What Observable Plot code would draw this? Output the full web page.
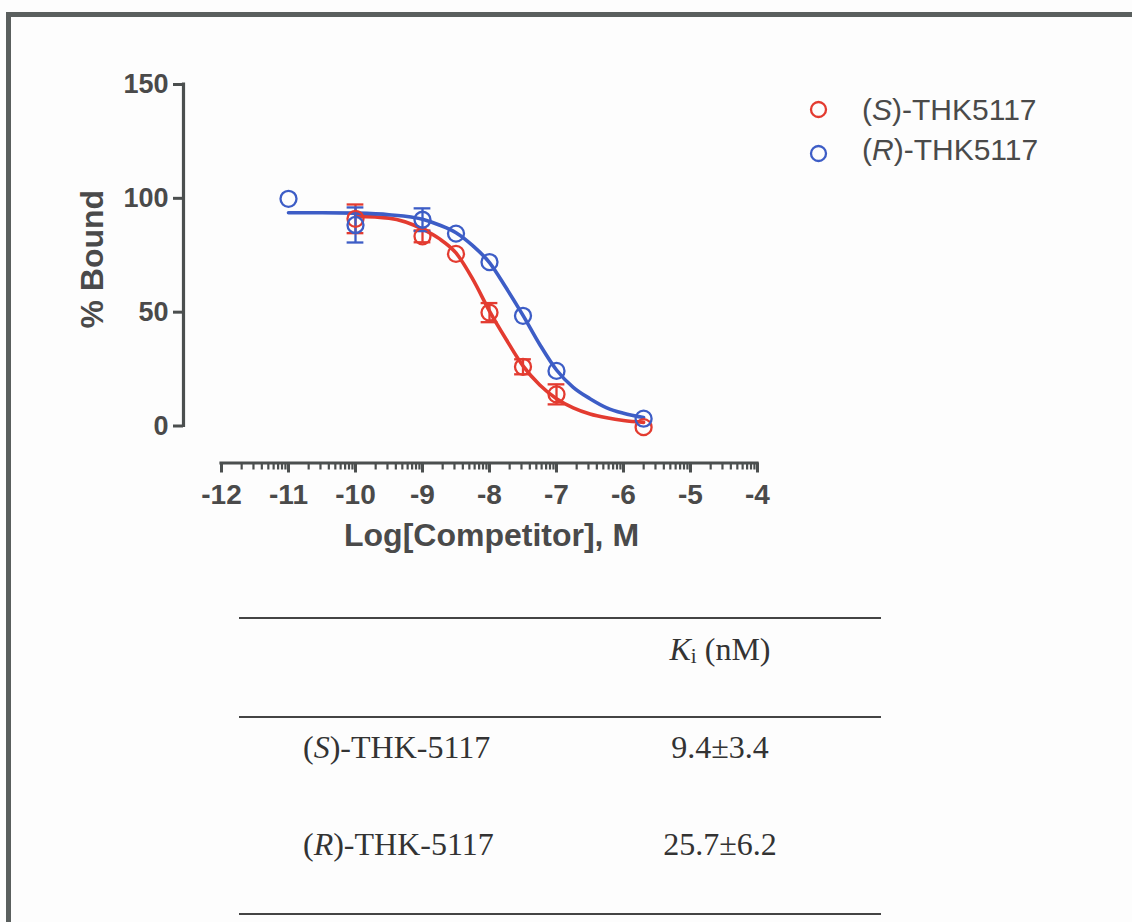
<!DOCTYPE html>
<html>
<head>
<meta charset="utf-8">
<script src="https://cdn.jsdelivr.net/npm/d3@7"></script>
<script src="https://cdn.jsdelivr.net/npm/@observablehq/plot@0.6"></script>
<style>
html, body { margin: 0; padding: 0; background: #fdfdfd; }
#page { position: relative; width: 1132px; height: 922px; overflow: hidden; background: #fdfdfd; }
#frame { position: absolute; left: 6px; top: 12px; right: -10px; bottom: -10px; border-top: 5px solid #5a5f5e; border-left: 5px solid #5a5f5e; }
#chart { position: absolute; left: 0; top: 0; }
.legend { position: absolute; left: 862px; font: 30px "Liberation Sans", Arial, sans-serif; color: #4a4a4a; line-height: 1; white-space: nowrap; }
.tab { position: absolute; font: 32px "Liberation Serif", "Times New Roman", serif; color: #333; line-height: 1; white-space: nowrap; }
.tab.c { left: 570px; width: 300px; text-align: center; }
.tab.l { left: 303px; }
.rule { position: absolute; left: 239px; width: 642px; height: 2px; background: #444; }
.sub { font-size: 0.66em; vertical-align: -0.12em; }
</style>
</head>
<body>
<div id="page">
  <div id="frame"></div>
  <div id="chart"></div>
  <div class="legend" style="top:94.5px"><span id="leg0"></span></div>
  <div class="legend" style="top:135px"><span id="leg1"></span></div>
  <div class="rule" style="top:617px"></div>
  <div class="rule" style="top:716px"></div>
  <div class="rule" style="top:913px"></div>
  <div class="tab c" style="top:633px"><i>K</i><span class="sub">i</span> (nM)</div>
  <div class="tab l" style="top:731px" id="row0"></div>
  <div class="tab c" style="top:731px" id="val0"></div>
  <div class="tab l" style="top:828px" id="row1"></div>
  <div class="tab c" style="top:828px" id="val1"></div>
</div>
<script>
// ---- data ----
const seriesNames = ["S", "R"];
const seriesColors = ["#e33b30", "#3d5dc6"];
const legendLabels = ["(<i>S</i>)-THK5117", "(<i>R</i>)-THK5117"];
const tableRows = ["(<i>S</i>)-THK-5117", "(<i>R</i>)-THK-5117"];
const tableValues = ["9.4±3.4", "25.7±6.2"];

const xMajorTicks = [-12, -11, -10, -9, -8, -7, -6, -5, -4];
const yTicks = [0, 50, 100, 150];
const xTitle = "Log[Competitor], M";
const yTitle = "% Bound";

// measured points (log M, % bound)
const pointsX_S = [-10, -9, -8.5, -8, -7.5, -7, -5.7];
const pointsY_S = [91, 83.3, 75.6, 49.8, 26, 13.9, -0.5];
const pointsX_R = [-11, -10, -9, -8.5, -8, -7.5, -7, -5.7];
const pointsY_R = [99.8, 88.3, 90.6, 84.5, 72, 48.4, 24.2, 3.2];

// visible error bars
const errX_S = [-10, -9, -8, -7.5, -7];
const errY_S = [91, 83.3, 49.8, 26, 13.9];
const errE_S = [6.3, 2.6, 4.2, 3.3, 4.4];
const errX_R = [-10, -9];
const errY_R = [88.3, 90.6];
const errE_R = [7.7, 5];

// fitted curves
const curveX_S = [-10, -9.5, -9, -8.75, -8.5, -8.25, -8, -7.75, -7.5, -7.25, -7, -6.75, -6.5, -6.25, -6, -5.7];
const curveY_S = [92.2, 91.3, 86.5, 82.3, 76, 64.5, 50.5, 38, 26.4, 18, 12, 8, 5.3, 3.6, 2.4, 1.6];
const curveX_R = [-11, -10.5, -10, -9.5, -9, -8.75, -8.5, -8.25, -8, -7.75, -7.5, -7.25, -7, -6.75, -6.5, -6.25, -6, -5.7];
const curveY_R = [93.7, 93.7, 93.5, 92.8, 90.8, 88.3, 84.9, 79.2, 71.8, 60.6, 48.6, 35.8, 24.6, 17, 12, 8, 5.6, 3.7];

// ---- tables ----
const rows = (xs, ys, s) => xs.map((x, i) => ({series: s, x, y: ys[i]}));
const curves = [...rows(curveX_S, curveY_S, "S"), ...rows(curveX_R, curveY_R, "R")];
const points = [...rows(pointsX_S, pointsY_S, "S"), ...rows(pointsX_R, pointsY_R, "R")];
const errs = [
  ...errX_S.map((x, i) => ({series: "S", x, y: errY_S[i], e: errE_S[i]})),
  ...errX_R.map((x, i) => ({series: "R", x, y: errY_R[i], e: errE_R[i]}))
];
const xMinorTicks = [];
for (let d = -12; d < -4; d++) for (let k = 2; k <= 9; k++) xMinorTicks.push(d + Math.log10(k));

const axisColor = "#4b4f4f";
const textColor = "#4a4a4a";
const capHalf = 0.125;

const chart = Plot.plot({
  width: 1132,
  height: 560,
  marginLeft: 221,
  marginRight: 375,
  marginTop: 84,
  marginBottom: 134.5,
  style: {background: "transparent", fontFamily: "'Liberation Sans', Arial, sans-serif", overflow: "visible"},
  x: {domain: [-12, -4]},
  y: {domain: [0, 150]},
  color: {domain: seriesNames, range: seriesColors},
  marks: [
    // y axis
    Plot.ruleX([-12], {y1: 0, y2: 150, dx: -38, stroke: axisColor, strokeWidth: 3.2, strokeLinecap: "square"}),
    Plot.axisY({ticks: yTicks, tickSize: 10, tickPadding: 5, dx: -38, stroke: axisColor, strokeWidth: 3, fill: textColor,
      fontSize: 27, fontWeight: "bold", label: null, tickFormat: d => String(d)}),
    // x axis
    Plot.ruleY([0], {x1: -12, x2: -4, dy: 37, stroke: axisColor, strokeWidth: 3.2, strokeLinecap: "square"}),
    Plot.axisX({ticks: xMinorTicks, tickSize: 7, dy: 37, stroke: axisColor, strokeWidth: 2.2, label: null, tickFormat: () => ""}),
    Plot.axisX({ticks: xMajorTicks, tickSize: 10, tickPadding: 11, dy: 37, stroke: axisColor, strokeWidth: 3, fill: textColor,
      fontSize: 28, fontWeight: "bold", label: null, tickFormat: d => String(d)}),
    // axis titles
    Plot.text([yTitle], {frameAnchor: "left", text: d => d, rotate: -90, dx: -129, dy: 4, textAnchor: "middle", lineAnchor: "middle",
      fontSize: 32, fontWeight: "bold", fill: textColor}),
    Plot.text([xTitle], {frameAnchor: "bottom", text: d => d, dx: 2, dy: 109.5, textAnchor: "middle", lineAnchor: "middle",
      fontSize: 32, fontWeight: "bold", fill: textColor}),
    // curves
    Plot.line(curves, {x: "x", y: "y", z: "series", stroke: "series", strokeWidth: 3.6, curve: "monotone-x"}),
    // error bars
    Plot.ruleX(errs, {x: "x", y1: d => d.y - d.e, y2: d => d.y + d.e, stroke: "series", strokeWidth: 2.3}),
    Plot.ruleY(errs, {y: d => d.y + d.e, x1: d => d.x - capHalf, x2: d => d.x + capHalf, stroke: "series", strokeWidth: 2.3}),
    Plot.ruleY(errs, {y: d => d.y - d.e, x1: d => d.x - capHalf, x2: d => d.x + capHalf, stroke: "series", strokeWidth: 2.3}),
    // points
    Plot.dot(points, {x: "x", y: "y", stroke: "series", r: 8, strokeWidth: 2.3, fill: "none"}),
    // legend symbols
    Plot.dot([seriesNames[0]], {frameAnchor: "top-left", dx: 597, dy: 25, stroke: d => d, r: 7.5, strokeWidth: 2.3}),
    Plot.dot([seriesNames[1]], {frameAnchor: "top-left", dx: 597, dy: 69, stroke: d => d, r: 7.5, strokeWidth: 2.3})
  ]
});
document.getElementById("chart").appendChild(chart);
document.getElementById("leg0").innerHTML = legendLabels[0];
document.getElementById("leg1").innerHTML = legendLabels[1];
document.getElementById("row0").innerHTML = tableRows[0];
document.getElementById("row1").innerHTML = tableRows[1];
document.getElementById("val0").textContent = tableValues[0];
document.getElementById("val1").textContent = tableValues[1];
</script>
</body>
</html>
